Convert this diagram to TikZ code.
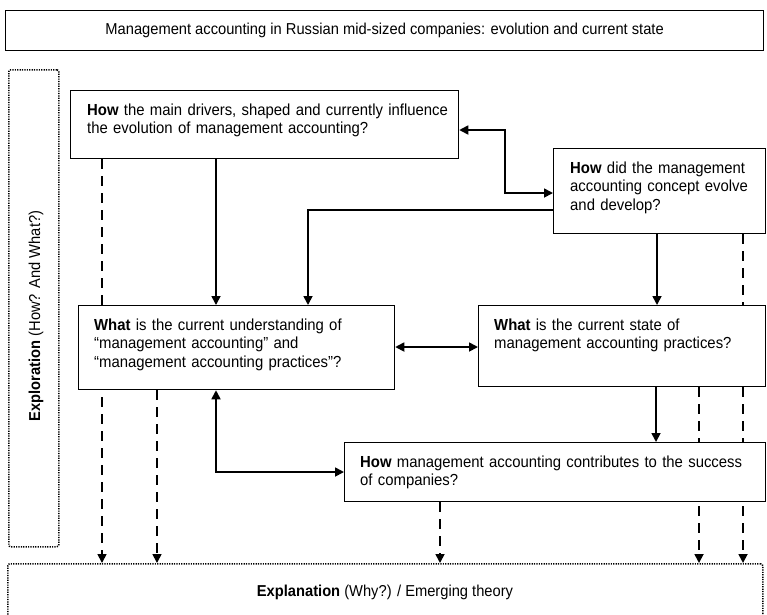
\documentclass[tikz,border=0pt]{standalone}
\usepackage{fontspec}
\setmainfont{Liberation Sans}[FakeStretch=0.93]
\usetikzlibrary{arrows.meta,backgrounds}
\begin{document}
\begin{tikzpicture}[x=1pt,y=-1pt,
  >={Triangle[length=9pt,width=9pt]},
  box/.style={draw, line width=1.25pt, fill=white, anchor=north west, inner sep=0pt},
  dotbox/.style={draw, line width=1.5pt, dash pattern=on 1.2pt off 1.2pt, rounded corners=2pt, anchor=north west, inner sep=0pt},
  txt/.style={anchor=base west, inner sep=0pt, align=left, text width=#1, font=\fontsize{16}{18.5}\selectfont},
  con/.style={line width=1.7pt},
  dcon/.style={line width=1.7pt, dash pattern=on 10pt off 7pt, ->}
]
\useasboundingbox (0,0) rectangle (767,614);
\clip (0,0) rectangle (767,614);

% frame boxes
\node[box, minimum width=758pt, minimum height=40pt, font=\fontsize{15.8}{18}\selectfont] (title) at (5,10) {Management accounting in Russian mid-sized companies: evolution and current state};
\node[dotbox, minimum width=50pt, minimum height=477pt] (xbox) at (8,69) {};
\node[rotate=90, font=\fontsize{15.8}{18}\selectfont] (xtext) at (36,316) {\textbf{Exploration} (How? And What?)};
\node[dotbox, minimum width=755pt, minimum height=80pt] (ebox) at (7,563) {};
\node[font=\fontsize{15.8}{18}\selectfont, anchor=base] (etext) at (385,596) {\textbf{Explanation} (Why?) / Emerging theory};

% question boxes
\node[box, minimum width=388pt, minimum height=68pt] (b1) at (70,90) {};
\node[box, minimum width=212pt, minimum height=85pt] (b2) at (553,148) {};
\node[box, minimum width=316pt, minimum height=84pt] (b3) at (78,305) {};
\node[box, minimum width=287pt, minimum height=81pt] (b4) at (478,305) {};
\node[box, minimum width=421pt, minimum height=59pt] (b5) at (344,442) {};

\node[txt=370pt] (t1) at ([shift={(17,25)}]b1.north west) {\textbf{How} the main drivers, shaped and currently influence\\the evolution of management accounting?};
\node[txt=200pt] (t2) at ([shift={(17,25)}]b2.north west) {\textbf{How} did the management\\accounting concept evolve\\and develop?};
\node[txt=300pt] (t3) at ([shift={(16,25)}]b3.north west) {\textbf{What} is the current understanding of\\“management accounting” and\\“management accounting practices”?};
\node[txt=270pt] (t4) at ([shift={(16,25)}]b4.north west) {\textbf{What} is the current state of\\management accounting practices?};
\node[txt=400pt] (t5) at ([shift={(16,25)}]b5.north west) {\textbf{How} management accounting contributes to the success\\of companies?};

% dashed connectors (behind the boxes)
\begin{scope}[on background layer]
\draw[dcon] ([xshift=32pt]b1.south west) -- ([xshift=32pt]b1.south west |- ebox.north);
\draw[dcon] ([xshift=79pt]b3.south west) -- ([xshift=79pt]b3.south west |- ebox.north);
\draw[dcon] ([xshift=96pt]b5.south west) -- ([xshift=96pt]b5.south west |- ebox.north);
\draw[dcon] ([xshift=221pt]b4.south west) -- ([xshift=221pt]b4.south west |- ebox.north);
\draw[dcon] ([xshift=190pt]b2.south west) -- ([xshift=190pt]b2.south west |- ebox.north);
\end{scope}

% solid connectors
\draw[con, ->] ([xshift=146pt]b1.south west) -- ([xshift=146pt]b1.south west |- b3.north);
\draw[con, <->] ([yshift=-40pt]b1.north east) -- ++(46,0) |- ([yshift=-45pt]b2.north west);
\draw[con, ->] ([yshift=-62pt]b2.north west) -| ([xshift=230pt]b3.north west);
\draw[con, <->] ([yshift=-42pt]b3.north east) -- ([yshift=-42pt]b4.north west);
\draw[con, ->] ([xshift=104pt]b2.south west) -- ([xshift=104pt]b2.south west |- b4.north);
\draw[con, ->] ([xshift=178pt]b4.south west) -- ([xshift=178pt]b4.south west |- b5.north);
\draw[con, <->] ([xshift=138pt]b3.south west) |- ([yshift=-30pt]b5.north west);
\end{tikzpicture}
\end{document}
